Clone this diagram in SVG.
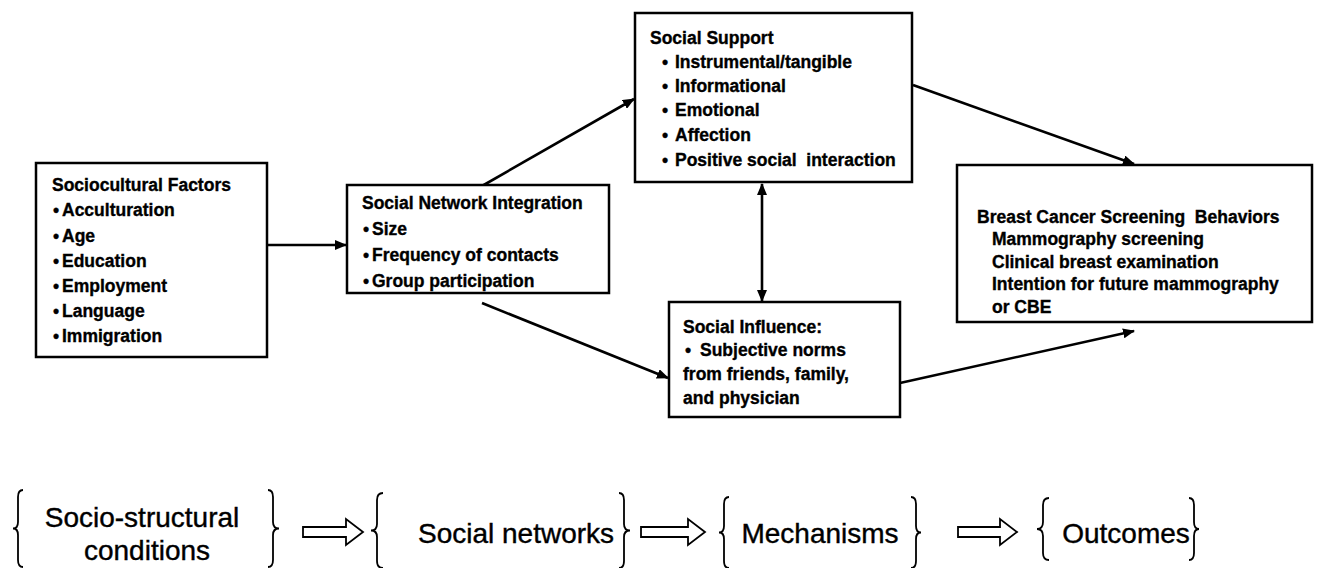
<svg xmlns="http://www.w3.org/2000/svg" width="1319" height="568" viewBox="0 0 1319 568">
<style>
.box{fill:#fff;stroke:#000;stroke-width:2.5}
.t{font-family:"Liberation Sans",Arial,sans-serif;font-weight:bold;font-size:17.5px;fill:#000;stroke:#000;stroke-width:0.35;white-space:pre}
.b{font-family:"Liberation Sans",Arial,sans-serif;font-size:28px;fill:#000;stroke:#000;stroke-width:0.4;text-anchor:middle}
.con{stroke:#000;stroke-width:2.6;fill:none}
.brace{stroke:#000;stroke-width:1.8;fill:none}
.harrow{fill:#fff;stroke:#000;stroke-width:1.8}
</style>
<defs>
<marker id="ah" markerUnits="userSpaceOnUse" markerWidth="12" markerHeight="10" refX="11" refY="5" orient="auto-start-reverse">
<path d="M0,0 L12,5 L0,10 z" fill="#000"/>
</marker>
</defs>
<rect width="1319" height="568" fill="#fff"/>

<g id="connectors">
<line class="con" x1="267" y1="245" x2="346" y2="245" marker-end="url(#ah)"/>
<line class="con" x1="482" y1="186" x2="634" y2="99" marker-end="url(#ah)"/>
<line class="con" x1="482" y1="303" x2="668" y2="378" marker-end="url(#ah)"/>
<line class="con" x1="913" y1="85" x2="1134" y2="164" marker-end="url(#ah)"/>
<line class="con" x1="900" y1="383" x2="1134" y2="331" marker-end="url(#ah)"/>
<line class="con" x1="762" y1="184" x2="762" y2="301" marker-start="url(#ah)" marker-end="url(#ah)"/>
</g>

<g id="sociocultural">
<rect class="box" x="36" y="163" width="231" height="194"/>
<text class="t" x="52" y="191">Sociocultural Factors</text>
<text class="t" y="216"><tspan x="53">•</tspan><tspan x="62">Acculturation</tspan></text>
<text class="t" y="242"><tspan x="53">•</tspan><tspan x="62">Age</tspan></text>
<text class="t" y="267"><tspan x="53">•</tspan><tspan x="62">Education</tspan></text>
<text class="t" y="292"><tspan x="53">•</tspan><tspan x="62">Employment</tspan></text>
<text class="t" y="317"><tspan x="53">•</tspan><tspan x="62">Language</tspan></text>
<text class="t" y="342"><tspan x="53">•</tspan><tspan x="62">Immigration</tspan></text>
</g>

<g id="network">
<rect class="box" x="347" y="185" width="262" height="108"/>
<text class="t" x="362" y="209">Social Network Integration</text>
<text class="t" y="235"><tspan x="363">•</tspan><tspan x="372">Size</tspan></text>
<text class="t" y="261"><tspan x="363">•</tspan><tspan x="372">Frequency of contacts</tspan></text>
<text class="t" y="287"><tspan x="363">•</tspan><tspan x="372">Group participation</tspan></text>
</g>

<g id="support">
<rect class="box" x="635" y="13" width="277" height="169"/>
<text class="t" x="650" y="44">Social Support</text>
<text class="t" y="68"><tspan x="662">•</tspan><tspan x="675">Instrumental/tangible</tspan></text>
<text class="t" y="92"><tspan x="662">•</tspan><tspan x="675">Informational</tspan></text>
<text class="t" y="116"><tspan x="662">•</tspan><tspan x="675">Emotional</tspan></text>
<text class="t" y="141"><tspan x="662">•</tspan><tspan x="675">Affection</tspan></text>
<text class="t" y="166"><tspan x="662">•</tspan><tspan x="675">Positive social  interaction</tspan></text>
</g>

<g id="influence">
<rect class="box" x="669" y="302" width="231" height="115"/>
<text class="t" x="683" y="333">Social Influence:</text>
<text class="t" y="356"><tspan x="685">•</tspan><tspan x="700">Subjective norms</tspan></text>
<text class="t" x="683" y="380">from friends, family,</text>
<text class="t" x="683" y="404">and physician</text>
</g>

<g id="screening">
<rect class="box" x="957" y="165" width="355" height="157"/>
<text class="t" x="977" y="223">Breast Cancer Screening  Behaviors</text>
<text class="t" x="992" y="245">Mammography screening</text>
<text class="t" x="992" y="268">Clinical breast examination</text>
<text class="t" x="992" y="290">Intention for future mammography</text>
<text class="t" x="992" y="313">or CBE</text>
</g>

<g id="bottom-socio">
<path class="brace" d="M23,490 Q18,490 18,497 L18,522 Q18,528.5 13,528.5 Q18,528.5 18,535 L18,560 Q18,567 23,567"/>
<text class="b" x="142" y="527">Socio-structural</text>
<text class="b" x="147" y="560">conditions</text>
<path class="brace" d="M268,490 Q273,490 273,497 L273,522 Q273,528.5 279,528.5 Q273,528.5 273,535 L273,560 Q273,567 268,567"/>
</g>
<g id="bottom-arrow1"><polygon class="harrow" points="303,527 346,527 346,519 363,532 346,545 346,537 303,537"/></g>
<g id="bottom-networks">
<path class="brace" d="M383,493 Q377,493 377,500 L377,524 Q377,530.5 371,530.5 Q377,530.5 377,537 L377,561 Q377,568 383,568"/>
<text class="b" x="516" y="543">Social networks</text>
<path class="brace" d="M619,493 Q624,493 624,500 L624,524 Q624,530.5 630,530.5 Q624,530.5 624,537 L624,561 Q624,568 619,568"/>
</g>
<g id="bottom-arrow2"><polygon class="harrow" points="641,527 688,527 688,519 705,532 688,545 688,537 641,537"/></g>
<g id="bottom-mechanisms">
<path class="brace" d="M729,497 Q724,497 724,504 L724,526 Q724,532.5 719,532.5 Q724,532.5 724,539 L724,561 Q724,568 729,568"/>
<text class="b" x="820" y="543">Mechanisms</text>
<path class="brace" d="M911,497 Q916,497 916,504 L916,526 Q916,532.5 921,532.5 Q916,532.5 916,539 L916,561 Q916,568 911,568"/>
</g>
<g id="bottom-arrow3"><polygon class="harrow" points="958,527 1000,527 1000,519 1017,532 1000,545 1000,537 958,537"/></g>
<g id="bottom-outcomes">
<path class="brace" d="M1049,498 Q1043,498 1043,505 L1043,522 Q1043,529 1037,529 Q1043,529 1043,536 L1043,553 Q1043,560 1049,560"/>
<text class="b" x="1126" y="543">Outcomes</text>
<path class="brace" d="M1189,498 Q1194,498 1194,505 L1194,522 Q1194,529 1199,529 Q1194,529 1194,536 L1194,553 Q1194,560 1189,560"/>
</g>
</svg>
